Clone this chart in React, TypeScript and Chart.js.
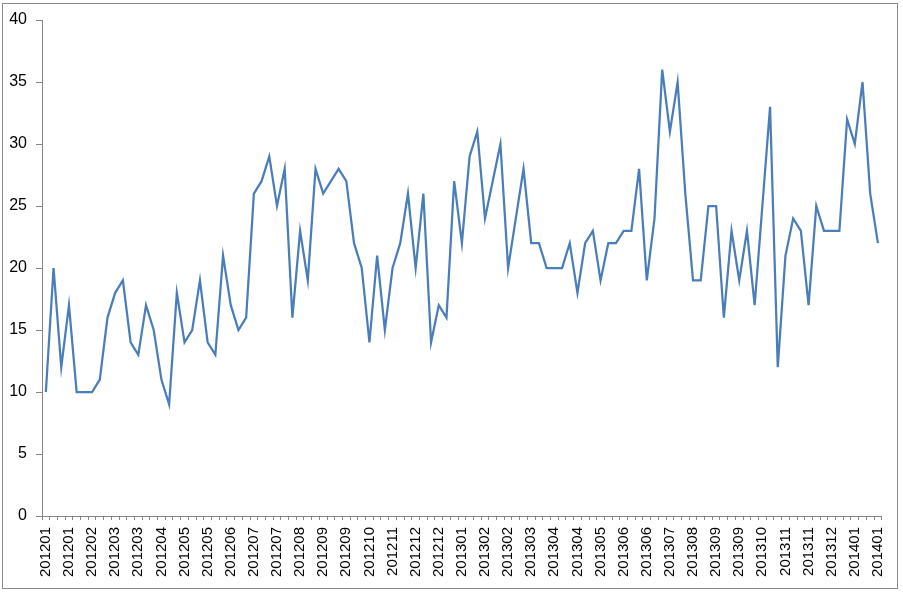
import React, { useEffect, useRef } from "react";
import { Chart, registerables } from "chart.js";

Chart.register(...registerables);

// Weekly categories (every third one is shown on the axis)
const weekLabels: string[] = [
  "201201", "201201", "201201", "201201", "201201",
  "201202", "201202", "201202", "201202",
  "201203", "201203", "201203", "201203",
  "201204", "201204", "201204", "201204", "201204",
  "201205", "201205", "201205", "201205",
  "201206", "201206", "201206", "201206",
  "201207", "201207", "201207", "201207", "201207",
  "201208", "201208", "201208", "201208",
  "201209", "201209", "201209", "201209", "201209",
  "201210", "201210", "201210", "201210",
  "201211", "201211", "201211", "201211",
  "201212", "201212", "201212", "201212", "201212",
  "201301", "201301", "201301", "201301",
  "201302", "201302", "201302", "201302",
  "201303", "201303", "201303", "201303", "201303",
  "201304", "201304", "201304", "201304",
  "201305", "201305", "201305", "201305",
  "201306", "201306", "201306", "201306", "201306",
  "201307", "201307", "201307", "201307",
  "201308", "201308", "201308", "201308",
  "201309", "201309", "201309", "201309", "201309",
  "201310", "201310", "201310", "201310",
  "201311", "201311", "201311", "201311",
  "201312", "201312", "201312", "201312", "201312",
  "201401", "201401", "201401", "201401",
];

const weeklyValues: number[] = [
  10, 20, 12, 17, 10, 10, 10, 11, 16, 18,
  19, 14, 13, 17, 15, 11, 9, 18, 14, 15,
  19, 14, 13, 21, 17, 15, 16, 26, 27, 29,
  25, 28, 16, 23, 19, 28, 26, 27, 28, 27,
  22, 20, 14, 21, 15, 20, 22, 26, 20, 26,
  14, 17, 16, 27, 22, 29, 31, 24, 27, 30,
  20, 24, 28, 22, 22, 20, 20, 20, 22, 18,
  22, 23, 19, 22, 22, 23, 23, 28, 19, 24,
  36, 31, 35, 26, 19, 19, 25, 25, 16, 23,
  19, 23, 17, 25, 33, 12, 21, 24, 23, 17,
  25, 23, 23, 23, 32, 30, 35, 26, 22,
];

const yMin = 0;
const yMax = 40;
const yStep = 5;
const labelEvery = 3;

export default function App() {
  const canvasRef = useRef<HTMLCanvasElement | null>(null);

  useEffect(() => {
    document.body.style.margin = "0";
    const canvas = canvasRef.current;
    if (!canvas) return;
    const axisColor = "#868686";
    const chart = new Chart(canvas, {
      type: "line",
      data: {
        labels: weekLabels,
        datasets: [
          {
            data: weeklyValues,
            borderColor: "#4a7ebb",
            borderWidth: 2.25,
            pointRadius: 0,
            tension: 0,
            fill: false,
          },
        ],
      },
      options: {
        responsive: false,
        animation: false,
        events: [],
        layout: { padding: { top: 20, right: 18, left: 0, bottom: 0 } },
        plugins: {
          legend: { display: false },
          tooltip: { enabled: false },
        },
        scales: {
          x: {
            type: "category",
            offset: true,
            afterFit: (s: any) => {
              s.height = 79;
            },
            grid: {
              offset: true,
              drawOnChartArea: false,
              drawTicks: true,
              tickLength: 4,
              color: axisColor,
            },
            border: { display: true, color: axisColor, width: 1 },
            ticks: {
              autoSkip: false,
              maxRotation: 90,
              minRotation: 90,
              padding: 7,
              color: "#000000",
              font: { family: "'Liberation Sans', Arial, sans-serif", size: 15 },
              callback: function (this: any, value: any, index: number) {
                return index % labelEvery === 0 ? this.getLabelForValue(value) : "";
              },
            },
          },
          y: {
            min: yMin,
            max: yMax,
            afterFit: (s: any) => {
              s.width = 42;
            },
            grid: {
              drawOnChartArea: false,
              drawTicks: true,
              tickLength: 6,
              color: axisColor,
            },
            border: { display: true, color: axisColor, width: 1 },
            ticks: {
              stepSize: yStep,
              padding: 9,
              color: "#000000",
              font: { family: "'Liberation Sans', Arial, sans-serif", size: 16 },
            },
          },
        },
      },
    });
    return () => chart.destroy();
  }, []);

  return (
    <div style={{ position: "relative", width: 903, height: 595, background: "#ffffff" }}>
      <canvas ref={canvasRef} width={903} height={595} style={{ display: "block" }} />
      <div
        style={{
          position: "absolute",
          left: 2,
          top: 3,
          width: 896,
          height: 586,
          boxSizing: "border-box",
          border: "1px solid #898989",
          pointerEvents: "none",
        }}
      />
    </div>
  );
}
